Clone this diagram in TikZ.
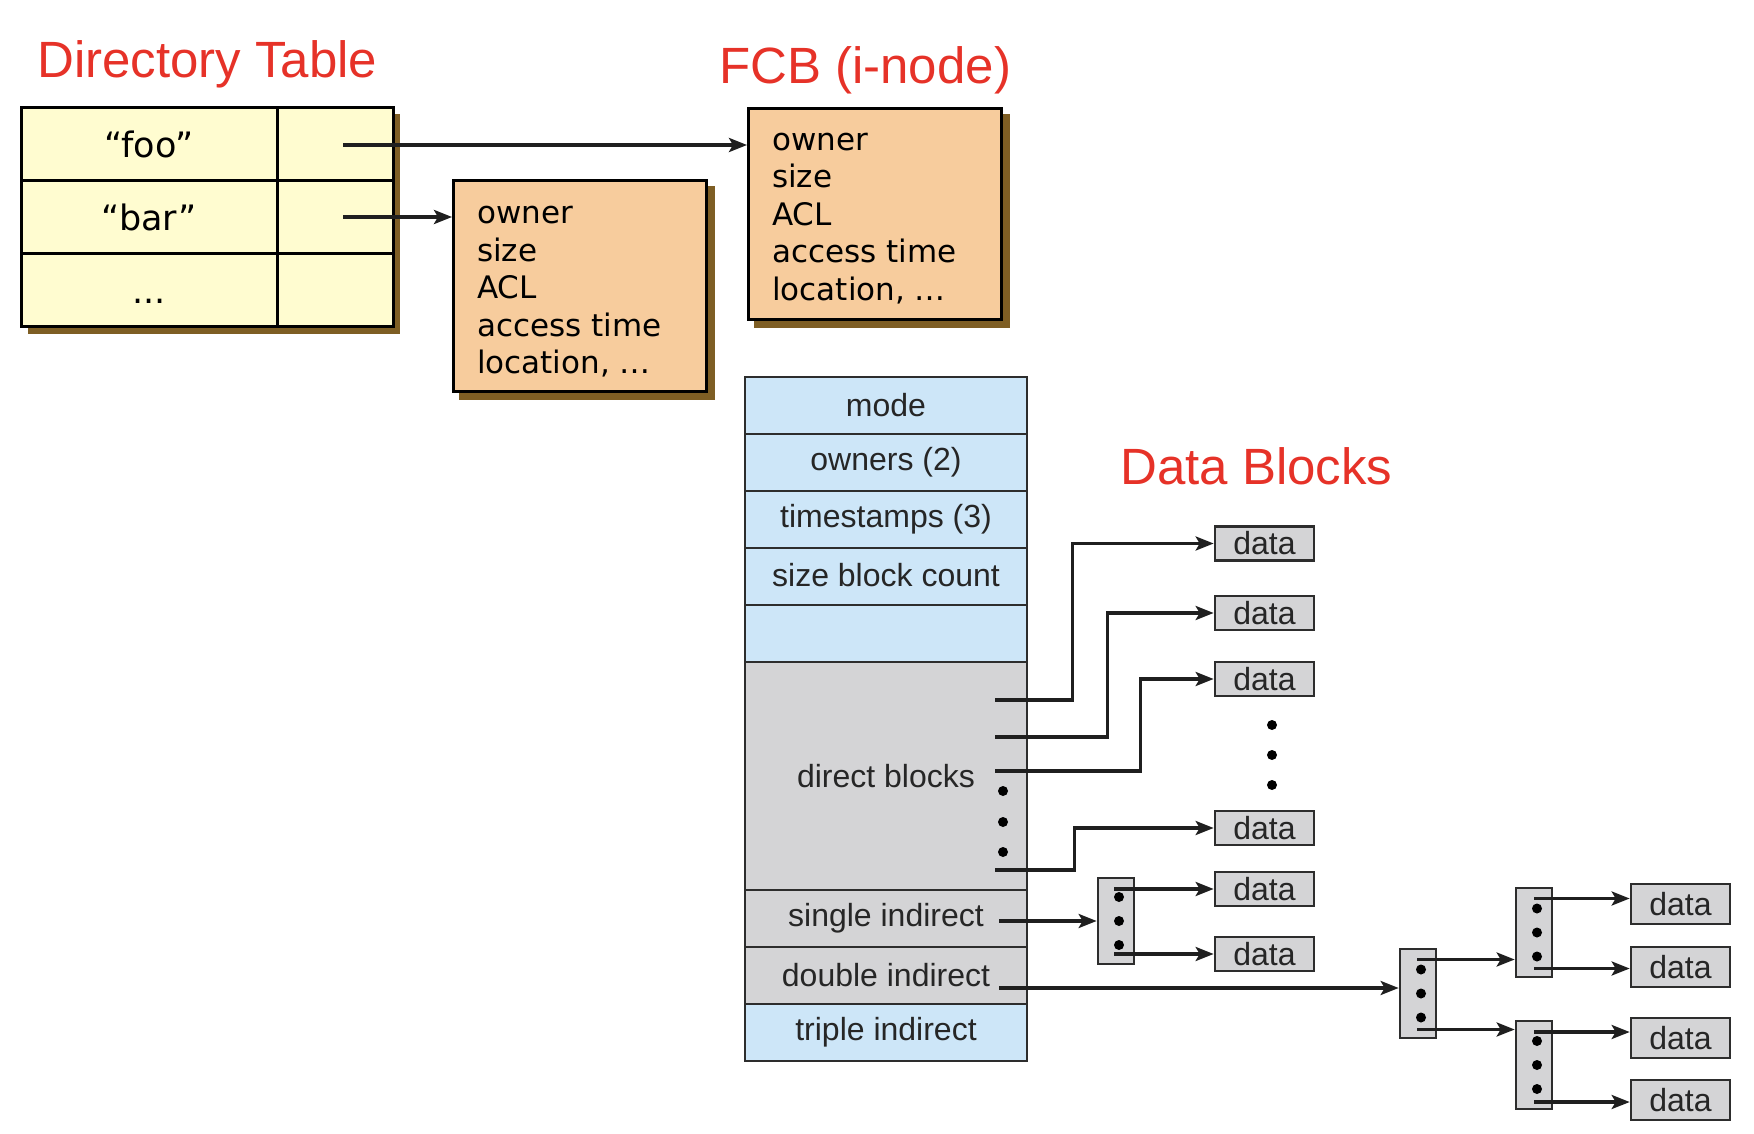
\documentclass[tikz,border=0pt]{standalone}
\usepackage{fontspec}
\setmainfont{Liberation Sans}
\newfontfamily\boxfont{DejaVu Sans}
\usetikzlibrary{positioning,arrows.meta,backgrounds}

\definecolor{titlered}{RGB}{230,50,40}
\definecolor{dirfill}{RGB}{255,252,208}
\definecolor{fcbfill}{RGB}{247,204,157}
\definecolor{fcbshadow}{RGB}{126,94,36}
\definecolor{inodeblue}{RGB}{205,230,248}
\definecolor{inodegray}{RGB}{212,212,214}
\definecolor{linegray}{RGB}{45,45,45}

\begin{document}
\begin{tikzpicture}[x=1pt,y=-1pt,
    title/.style={text=titlered,font=\fontsize{51}{60}\selectfont,anchor=base west,inner sep=0pt},
    dircell/.style={draw=black,line width=3pt,fill=dirfill,minimum height=73pt,inner sep=0pt,outer sep=0pt,font=\boxfont\fontsize{35}{40}\selectfont},
    fcbbox/.style={draw=black,line width=3pt,fill=fcbfill,minimum width=253pt,minimum height=211pt,inner sep=0pt},
    fcbline/.style={anchor=base west,inner sep=0pt,font=\boxfont\fontsize{31}{37}\selectfont},
    inoderow/.style={draw=linegray,line width=2.6pt,fill=inodeblue,minimum width=282pt,minimum height=57pt,inner sep=0pt,outer sep=0pt,text=black!85,font=\fontsize{32}{38}\selectfont},
    datablk/.style={draw=linegray,line width=2.6pt,fill=inodegray,minimum width=99pt,minimum height=34pt,inner sep=0pt,text=black!85,font=\fontsize{32}{38}\selectfont},
    idxblk/.style={draw=linegray,line width=2.6pt,fill=inodegray,minimum width=36pt,minimum height=88pt,inner sep=0pt},
    ptr/.style={line width=3.4pt,draw=black!88,-{Stealth[length=18pt,width=14pt,inset=4pt]}}
  ]
  \useasboundingbox (0,0) rectangle (1754,1134);

  \node[title] (dirtitle) at (37,78) {Directory Table};
  \node[title] (fcbtitle) at (719,84) {FCB (i-node)};
  \node[title] (datatitle) at (1120,484) {Data Blocks};

  \node[dircell,minimum width=256pt] (foo) at (149,144) {“foo”};
  \node[dircell,minimum width=116pt,right=0pt of foo] (fooptr) {};
  \node[dircell,minimum width=256pt,below=0pt of foo] (bar) {“bar”};
  \node[dircell,minimum width=116pt,right=0pt of bar] (barptr) {};
  \node[dircell,minimum width=256pt,below=0pt of bar] (etc) {\vphantom{“bar”}...};
  \node[dircell,minimum width=116pt,right=0pt of etc] (etcptr) {};

  \node[fcbbox] (fcb) at (875,214) {};
  \node[fcbbox] (barfcb) at (580,286) {};
  \foreach \txt [count=\i from 0] in {owner,size,ACL,access time,{location, …}} {
    \node[fcbline] (fcb-\i) at ([shift={(25,43.5+37.4*\i)}]fcb.north west) {\txt};
    \node[fcbline] (barfcb-\i) at ([shift={(25,45+37.4*\i)}]barfcb.north west) {\txt};
  }
  \begin{scope}[on background layer]
    \fill[fcbshadow] ([shift={(7,7)}]foo.north west) rectangle ([shift={(7,7)}]etcptr.south east);
    \fill[fcbshadow] ([shift={(7,7)}]fcb.north west) rectangle ([shift={(7,7)}]fcb.south east);
    \fill[fcbshadow] ([shift={(7,7)}]barfcb.north west) rectangle ([shift={(7,7)}]barfcb.south east);
  \end{scope}

  \coordinate (fooref) at (343,145);
  \coordinate (barref) at (343,217);
  \draw[ptr] (fooref) -- (fooref -| fcb.west);
  \draw[ptr] (barref) -- (barref -| barfcb.west);

  \node[inoderow] (mode) at (886,405.5) {mode};
  \node[inoderow,below=0pt of mode] (owners) {owners (2)};
  \node[inoderow,below=0pt of owners] (stamps) {timestamps (3)};
  \node[inoderow,below=0pt of stamps] (sizecount) {\raisebox{4pt}{size block count}};
  \node[inoderow,below=0pt of sizecount] (blank) {};
  \node[inoderow,fill=inodegray,minimum height=228pt,below=0pt of blank] (direct) {direct blocks};
  \node[inoderow,fill=inodegray,below=0pt of direct] (single) {single indirect};
  \node[inoderow,fill=inodegray,below=0pt of single] (double) {double indirect};
  \node[inoderow,below=0pt of double] (triple) {triple indirect};

  \node[datablk] (data1) at (1264.5,543.5) {data};
  \node[datablk] (data2) at (1264.5,613) {data};
  \node[datablk] (data3) at (1264.5,679) {data};
  \node[datablk] (data4) at (1264.5,828) {data};
  \node[datablk] (data5) at (1264.5,889) {data};
  \node[datablk] (data6) at (1264.5,954) {data};
  \foreach \y in {725,755,785} \fill (1272,\y) circle (5pt);

  \coordinate (d1) at (995,700);
  \coordinate (d2) at (995,737);
  \coordinate (d3) at (995,771);
  \coordinate (d4) at (995,870);
  \foreach \y in {791,822,852} \fill (1003,\y) circle (5pt);
  \draw[ptr] (d1) -| ([xshift=-141pt]data1.west) -- (data1.west);
  \draw[ptr] (d2) -| ([xshift=-106.5pt]data2.west) -- (data2.west);
  \draw[ptr] (d3) -| ([xshift=-73pt]data3.west) -- (data3.west);
  \draw[ptr] (d4) -| ([xshift=-139pt]data4.west) -- (data4.west);

  \node[idxblk,minimum height=86pt] (sib) at (1116,921) {};
  \node[idxblk,minimum height=89pt] (dib) at (1418,993.5) {};
  \node[idxblk,minimum height=89pt] (dib1) at (1534,932.5) {};
  \node[idxblk,minimum height=88pt] (dib2) at (1534,1065) {};
  \foreach \blk in {sib,dib,dib1,dib2}
    \foreach \dy in {-24,0,24}
      \fill ([shift={(3,\dy)}]\blk.center) circle (5pt);

  \node[datablk,minimum height=40pt] (data7) at (1680.5,904) {data};
  \node[datablk,minimum height=40pt] (data8) at (1680.5,967) {data};
  \node[datablk,minimum height=40pt] (data9) at (1680.5,1038) {data};
  \node[datablk,minimum height=40pt] (data10) at (1680.5,1100) {data};

  \coordinate (si) at (999,921);
  \draw[ptr] (si) -- (sib.west);
  \coordinate (sia) at ([shift={(-2,-32)}]sib.center);
  \coordinate (sib2) at ([shift={(-2,33)}]sib.center);
  \draw[ptr] (sia) -- (sia -| data5.west);
  \draw[ptr] (sib2) -- (sib2 -| data6.west);

  \coordinate (di) at (999,988);
  \draw[ptr] (di) -- (di -| dib.west);
  \coordinate (dia) at ([shift={(-1,-34)}]dib.center);
  \coordinate (dibb) at ([shift={(-1,36)}]dib.center);
  \draw[ptr] (dia) -- (dia -| dib1.west);
  \draw[ptr] (dibb) -- (dibb -| dib2.west);

  \coordinate (d1a) at ([shift={(0,-34)}]dib1.center);
  \coordinate (d1b) at ([shift={(0,36)}]dib1.center);
  \coordinate (d2a) at ([shift={(0,-33)}]dib2.center);
  \coordinate (d2b) at ([shift={(0,37)}]dib2.center);
  \draw[ptr] (d1a) -- (d1a -| data7.west);
  \draw[ptr] (d1b) -- (d1b -| data8.west);
  \draw[ptr] (d2a) -- (d2a -| data9.west);
  \draw[ptr] (d2b) -- (d2b -| data10.west);
\end{tikzpicture}
\end{document}
